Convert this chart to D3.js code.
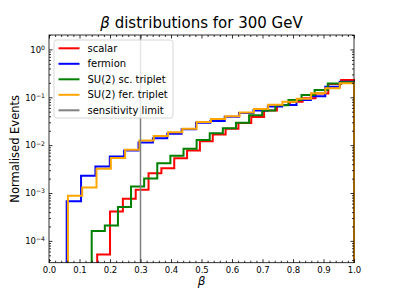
<!DOCTYPE html>
<html>
<head>
<meta charset="utf-8">
<script src="https://cdn.jsdelivr.net/npm/d3@7"></script>
<style>
  body { margin: 0; background: #fff; }
  svg text { font-family: "DejaVu Sans", sans-serif; }
</style>
</head>
<body>
<div id="chart"></div>
<script>
// Histogram contents (20 bins each, from the lowest beta in the sample up to 1)
const seriesNames = ["scalar", "fermion", "SU(2) sc. triplet", "SU(2) fer. triplet"];
const binLow = [0.158, 0.058, 0.14, 0.062];
const binHigh = 1.0;
const scalarVals = [5.2e-5, 4.1e-4, 7.6e-4, 1.17e-3, 2.6e-3, 3.3e-3, 5.3e-3, 7.7e-3, 1.2e-2, 1.67e-2,
                    2.2e-2, 2.9e-2, 3.85e-2, 5.3e-2, 6.9e-2, 8.1e-2, 9.5e-2, 0.12, 0.19, 0.23];
const fermionVals = [6.7e-4, 2.3e-3, 3.6e-3, 5.8e-3, 7.7e-3, 1.13e-2, 1.4e-2, 1.72e-2, 2.15e-2, 2.92e-2,
                     3.2e-2, 3.9e-2, 4.7e-2, 5.3e-2, 6.4e-2, 6.9e-2, 8.8e-2, 0.105, 0.165, 0.21];
const scTripletVals = [1.6e-4, 2.1e-4, 5.1e-4, 1.37e-3, 2.0e-3, 4.2e-3, 6.0e-3, 8.4e-3, 1.28e-2, 1.78e-2,
                       2.26e-2, 2.95e-2, 4.2e-2, 5.3e-2, 6.8e-2, 8.8e-2, 0.112, 0.142, 0.195, 0.205];
const ferTripletVals = [8.8e-4, 1.3e-3, 3.2e-3, 5.4e-3, 8.0e-3, 1.25e-2, 1.55e-2, 1.86e-2, 2.2e-2, 3.05e-2,
                        3.5e-2, 4.0e-2, 4.8e-2, 5.7e-2, 7.0e-2, 8.1e-2, 9.3e-2, 0.121, 0.155, 0.196];
const sensitivityLimit = 0.3;
const xTicks = [0, 0.1, 0.2, 0.3, 0.4, 0.5, 0.6, 0.7, 0.8, 0.9, 1.0];
const yTickExp = [-4, -3, -2, -1, 0];

const colors = ["red", "blue", "green", "orange"];
const allVals = [scalarVals, fermionVals, scTripletVals, ferTripletVals];

// Format container
const width = 394, height = 296;
const margin = { top: 35, right: 40, bottom: 33.3, left: 49 };

const x = d3.scaleLinear().domain([0, 1]).range([margin.left, width - margin.right]);
const y = d3.scaleLog().domain([3.5e-5, 2]).range([height - margin.bottom, margin.top]);

const svg = d3.select("#chart").append("svg")
    .attr("width", width)
    .attr("height", height);

// Step histograms
allVals.forEach((vals, i) => {
    const lo = binLow[i];
    const n = vals.length;
    const edges = d3.range(n + 1).map(k => lo + (binHigh - lo) * k / n);
    const pts = [[x(edges[0]), y.range()[0]]];
    vals.forEach((v, k) => {
        pts.push([x(edges[k]), y(v)]);
        pts.push([x(edges[k + 1]), y(v)]);
    });
    pts.push([x(edges[n]), y.range()[0]]);
    svg.append("path")
        .attr("d", d3.line()(pts))
        .attr("fill", "none")
        .attr("stroke", colors[i])
        .attr("stroke-width", 2);
});

// Sensitivity limit line
svg.append("line")
    .attr("x1", x(sensitivityLimit)).attr("x2", x(sensitivityLimit))
    .attr("y1", y.range()[0]).attr("y2", y.range()[1])
    .attr("stroke", "grey")
    .attr("stroke-width", 1.5);

// Axes (ticks pointing in, on every side)
const fontTick = 8.5;
const xMinor = d3.range(0, 51).map(k => k / 50).filter(v => Math.round(v * 50) % 5 !== 0);
const yMinor = [];
for (let e = -5; e <= 0; e++) for (let m = 2; m <= 9; m++) yMinor.push(m * Math.pow(10, e));
const yMinorIn = yMinor.filter(v => v >= y.domain()[0] && v <= y.domain()[1]);
const yMajor = yTickExp.map(e => Math.pow(10, e));

const bottomY = height - margin.bottom, topY = margin.top;
const leftX = margin.left, rightX = width - margin.right;

svg.append("g")
    .attr("transform", `translate(0,${bottomY})`)
    .call(d3.axisBottom(x).tickValues(xTicks).tickFormat(d3.format(".1f"))
        .tickSize(-3.5).tickSizeOuter(0).tickPadding(4))
    .call(g => g.select(".domain").remove())
    .call(g => g.selectAll("text").attr("font-size", fontTick).attr("fill", "#000"));
svg.append("g")
    .attr("transform", `translate(0,${bottomY})`)
    .call(d3.axisBottom(x).tickValues(xMinor).tickFormat("").tickSize(-2).tickSizeOuter(0))
    .call(g => g.select(".domain").remove());
svg.append("g")
    .attr("transform", `translate(0,${topY})`)
    .call(d3.axisTop(x).tickValues(xTicks).tickFormat("").tickSize(-3.5).tickSizeOuter(0))
    .call(g => g.select(".domain").remove());
svg.append("g")
    .attr("transform", `translate(0,${topY})`)
    .call(d3.axisTop(x).tickValues(xMinor).tickFormat("").tickSize(-2).tickSizeOuter(0))
    .call(g => g.select(".domain").remove());

svg.append("g")
    .attr("transform", `translate(${leftX},0)`)
    .call(d3.axisLeft(y).tickValues(yMajor).tickSize(-3.5).tickSizeOuter(0).tickPadding(4))
    .call(g => g.select(".domain").remove())
    .call(g => g.selectAll("text").each(function (d) {
        const t = d3.select(this).text("").attr("fill", "#000").attr("font-size", fontTick);
        t.append("tspan").text("10");
        t.append("tspan").attr("dy", "-0.45em").attr("font-size", fontTick * 0.72)
            .text(Math.round(Math.log10(d)) === 0 ? "0" : "\u2212" + Math.abs(Math.round(Math.log10(d))));
    }));
svg.append("g")
    .attr("transform", `translate(${leftX},0)`)
    .call(d3.axisLeft(y).tickValues(yMinorIn).tickFormat("").tickSize(-2).tickSizeOuter(0))
    .call(g => g.select(".domain").remove());
svg.append("g")
    .attr("transform", `translate(${rightX},0)`)
    .call(d3.axisRight(y).tickValues(yMajor).tickFormat("").tickSize(-3.5).tickSizeOuter(0))
    .call(g => g.select(".domain").remove());
svg.append("g")
    .attr("transform", `translate(${rightX},0)`)
    .call(d3.axisRight(y).tickValues(yMinorIn).tickFormat("").tickSize(-2).tickSizeOuter(0))
    .call(g => g.select(".domain").remove());

svg.selectAll(".tick line").attr("stroke", "#000").attr("stroke-width", 0.8);

// Frame
svg.append("rect")
    .attr("x", leftX).attr("y", topY)
    .attr("width", rightX - leftX).attr("height", bottomY - topY)
    .attr("fill", "none").attr("stroke", "#000").attr("stroke-width", 0.8);

// Titles
const title = svg.append("text")
    .attr("x", (leftX + rightX) / 2).attr("y", 28)
    .attr("text-anchor", "middle").attr("font-size", 15);
title.append("tspan").attr("font-style", "italic").text("β");
title.append("tspan").text(" distributions for 300 GeV");

svg.append("text")
    .attr("x", (leftX + rightX) / 2).attr("y", 285)
    .attr("text-anchor", "middle").attr("font-size", 12).attr("font-style", "italic")
    .text("β");

svg.append("text")
    .attr("transform", `translate(19,${(topY + bottomY) / 2}) rotate(-90)`)
    .attr("text-anchor", "middle").attr("font-size", 11.5)
    .text("Normalised Events");

// Legend
const legendNames = seriesNames.concat(["sensitivity limit"]);
const legendColors = colors.concat(["grey"]);
const legend = svg.append("g");
legend.append("rect")
    .attr("x", 54).attr("y", 40).attr("width", 119).attr("height", 78).attr("rx", 2.5)
    .attr("fill", "#fff").attr("fill-opacity", 0.8)
    .attr("stroke", "#cccccc").attr("stroke-width", 0.8);
legendNames.forEach((name, i) => {
    const ly = 48.3 + i * 15.5;
    legend.append("line")
        .attr("x1", 58.5).attr("x2", 79.5).attr("y1", ly).attr("y2", ly)
        .attr("stroke", legendColors[i]).attr("stroke-width", 2);
    legend.append("text")
        .attr("x", 87.5).attr("y", ly + 3.6)
        .attr("font-size", 10)
        .text(name);
});
</script>
</body>
</html>
